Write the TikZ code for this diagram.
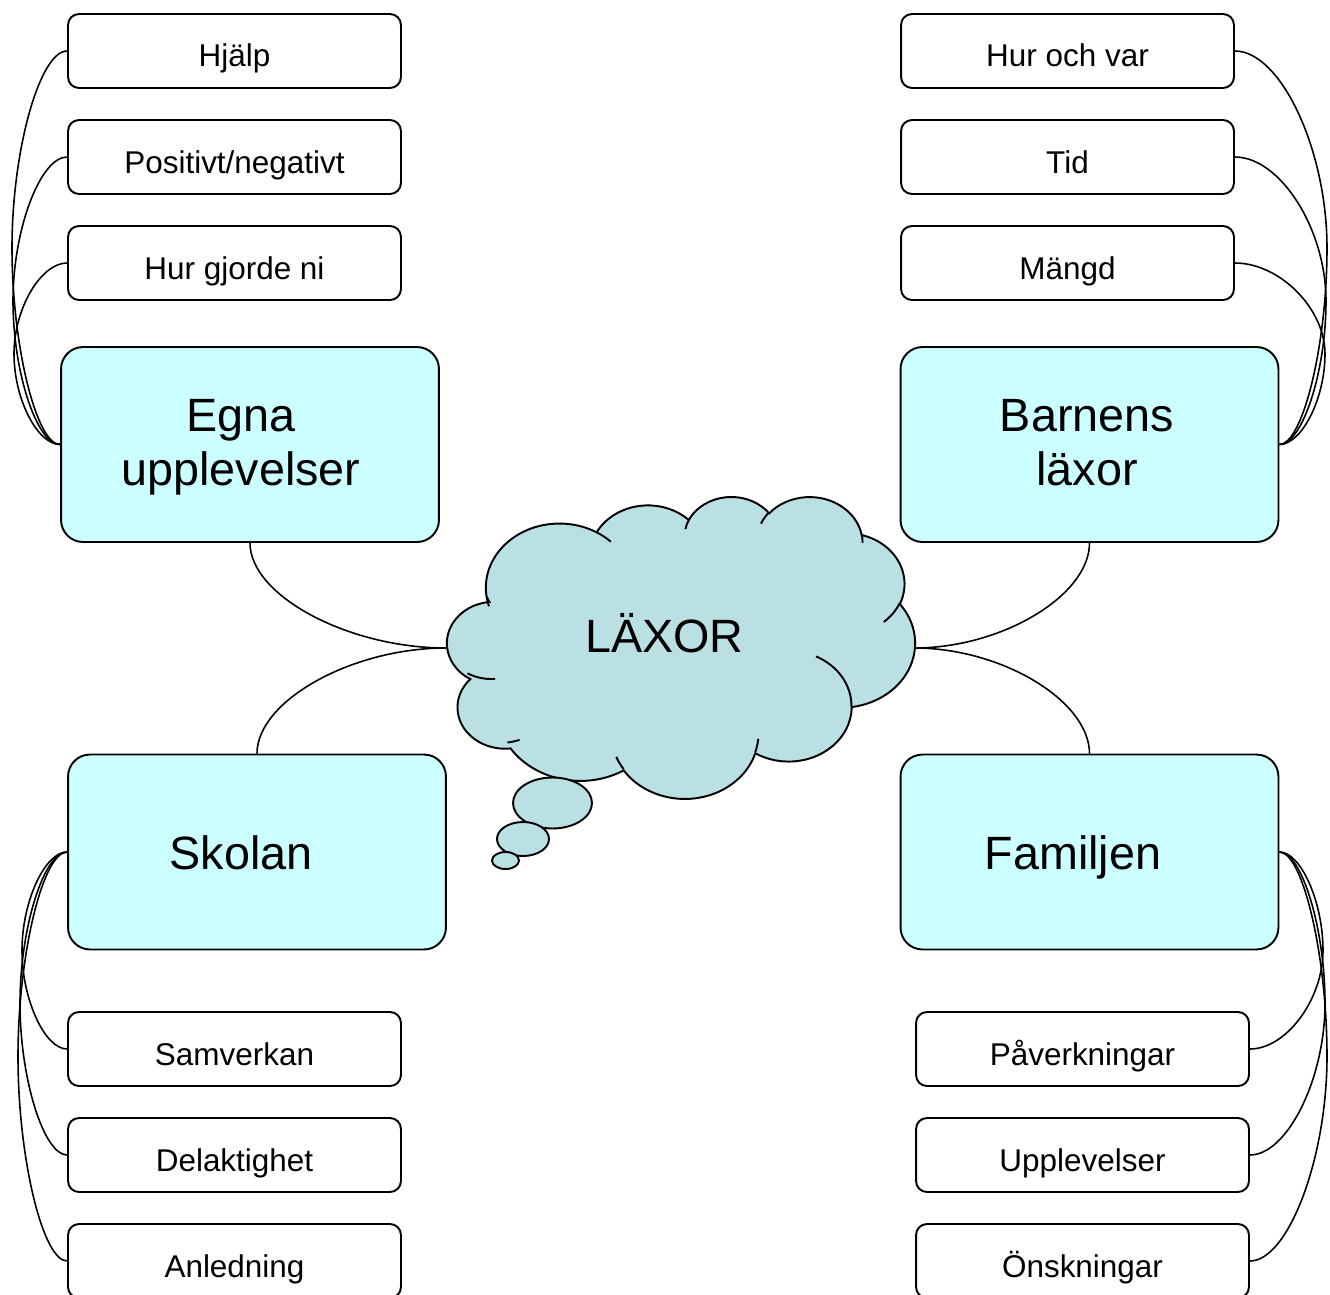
\documentclass[tikz,border=0pt]{standalone}
\usepackage{fontspec}
\setmainfont{Liberation Sans}
\definecolor{boxcyan}{RGB}{204,255,255}
\definecolor{cloudfill}{RGB}{187,224,227}
\begin{document}
\begin{tikzpicture}[x=0.02cm,y=-0.02cm,
  smallbox/.style={draw=black, line width=1.1pt, fill=white, rounded corners=0.22cm,
    minimum width=6.66cm, minimum height=1.48cm, inner sep=0pt,
    font=\fontsize{17.9}{21}\selectfont, text height=0.66cm, text depth=0.02cm},
  bigbox/.style={draw=black, line width=1.1pt, fill=boxcyan, rounded corners=0.44cm,
    minimum width=7.56cm, minimum height=3.9cm, inner sep=0pt},
  bigtext/.style={font=\fontsize{26.6}{30.6}\selectfont, align=center, anchor=base, inner sep=0pt},
  conn/.style={line width=0.9pt, draw=black},
  cloudshape/.style={line width=1.1pt, draw=black, fill=cloudfill},
  cloudinner/.style={line width=1.1pt, draw=black}
]
\useasboundingbox (0,0) rectangle (1330,1295);
\clip (0,0) rectangle (1330,1295);

% ---------- boxes ----------
\node[bigbox] (egna) at (250,444.5) {};
\node[bigbox] (barnens) at (1089.5,444.5) {};
\node[bigbox] (skolan) at (257,852) {};
\node[bigbox] (familjen) at (1089.5,852) {};

\node[bigtext] (egnaT) at (241,485.5) {Egna\\upplevelser};
\node[bigtext] (barnensT) at (1087,485.5) {Barnens\\läxor};
\node[bigtext] (skolanT) at (241,869) {Skolan};
\node[bigtext] (familjenT) at (1073,869) {Familjen};

\node[smallbox] (hjalp) at (234.5,51) {Hjälp};
\node[smallbox] (posneg) at (234.5,157) {Positivt/negativt};
\node[smallbox] (hurgj) at (234.5,263) {Hur gjorde ni};

\node[smallbox] (hurvar) at (1067.5,51) {Hur och var};
\node[smallbox] (tid) at (1067.5,157) {Tid};
\node[smallbox] (mangd) at (1067.5,263) {Mängd};

\node[smallbox] (samv) at (234.5,1049) {Samverkan};
\node[smallbox] (delak) at (234.5,1155) {Delaktighet};
\node[smallbox] (anled) at (234.5,1261) {Anledning};

\node[smallbox] (paverk) at (1082.5,1049) {Påverkningar};
\node[smallbox] (uppl) at (1082.5,1155) {Upplevelser};
\node[smallbox] (onsk) at (1082.5,1261) {Önskningar};

% ---------- cloud ----------
\begin{scope}[shift={(444,496)}, x=0.0218056cm, y=-0.0139815cm]
\path[cloudshape] (39.00,143.70)
 arc[start angle=-187.745, end angle=-59.637, x radius=67.53, y radius=91.90]
 arc[start angle=-152.038, end angle=-45.415, x radius=53.33, y radius=72.67]
 arc[start angle=-153.50, end angle=-37.31, x radius=43.65, y radius=59.45]
 arc[start angle=-139.71, end angle=-10.21, x radius=48.57, y radius=65.95]
 arc[start angle=-74.77, end angle=23.21, x radius=53.33, y radius=72.73]
 arc[start angle=-37.52, end angle=81.86, x radius=67.75, y radius=92.20]
 arc[start angle=0.46, end angle=121.98, x radius=57.85, y radius=78.67]
 arc[start angle=16.84, end angle=146.21, x radius=67.52, y radius=92.15]
 arc[start angle=58.98, end angle=146.02, x radius=77.20, y radius=105.43]
 arc[start angle=-276.69, end angle=-136.90, x radius=43.60, y radius=59.18]
 arc[start angle=-239.65, end angle=-95.89, x radius=43.45, y radius=59.45]
 -- cycle;
\draw[cloudinner] (46.93,261.77) arc[start angle=85.55, end angle=120.36, x radius=43.45, y radius=59.45];
\draw[cloudinner] (69.28,348.99) arc[start angle=68.24, end angle=83.31, x radius=43.60, y radius=59.18];
\draw[cloudinner] (164.78,390.90) arc[start angle=146.21, end angle=158.47, x radius=67.52, y radius=92.15];
\draw[cloudinner] (288.27,347.51) arc[start angle=4.74, end angle=16.84, x radius=67.52, y radius=92.15];
\draw[cloudinner] (341.29,229.54) arc[start angle=-64.03, end angle=0.46, x radius=57.85, y radius=78.67];
\draw[cloudinner] (417.98,153.54) arc[start angle=23.21, end angle=49.64, x radius=53.33, y radius=72.73];
\draw[cloudinner] (383.24,54.26) arc[start angle=-10.21, end angle=0.82, x radius=48.57, y radius=65.95];
\draw[cloudinner] (290.78,39.52) arc[start angle=-156.29, end angle=-139.71, x radius=48.57, y radius=65.95];
\draw[cloudinner] (221.41,47.20) arc[start angle=-167.73, end angle=-153.50, x radius=43.65, y radius=59.45];
\draw[cloudinner] (140.00,51.92) arc[start angle=-59.637, end angle=-45.69, x radius=67.53, y radius=91.90];
\draw[cloudinner] (41.27,157.89) arc[start angle=163.20, end angle=172.25, x radius=67.53, y radius=91.90];
\end{scope}
\draw[cloudshape] (552.5,803) ellipse [x radius=39.5, y radius=25.5];
\draw[cloudshape] (523,839) ellipse [x radius=26, y radius=17];
\draw[cloudshape] (505.5,860.5) ellipse [x radius=13.5, y radius=8.5];
\node[font=\fontsize{26.6}{30.6}\selectfont, anchor=base, inner sep=0pt] (laxor) at (664.5,652) {LÄXOR};
\coordinate (cloudL) at (446,648);
\coordinate (cloudR) at (914.5,648);

% ---------- connectors: cloud ----------
\draw[conn] (cloudL) .. controls (348,648) and (250,595.5) .. (egna.south);
\draw[conn] (cloudL) .. controls (351.5,648) and (257,701) .. (skolan.north);
\draw[conn] (cloudR) .. controls (1002,648) and (1089.5,595.5) .. (barnens.south);
\draw[conn] (cloudR) .. controls (1002,648) and (1089.5,701) .. (familjen.north);

% ---------- connectors: top left ----------
\draw[conn] (hjalp.west) .. controls (40,51) and (12,149.4) .. (12,247.8) .. controls (12,346.1) and (36.5,444.5) .. (egna.west);
\draw[conn] (posneg.west) .. controls (40.5,157) and (13,228.9) .. (13,300.8) .. controls (13,372.6) and (37,444.5) .. (egna.west);
\draw[conn] (hurgj.west) .. controls (41,263) and (14,308.4) .. (14,353.8) .. controls (14,399.1) and (37.5,444.5) .. (egna.west);

% ---------- connectors: top right ----------
\draw[conn] (hurvar.east) .. controls (1280.5,51) and (1327,149.4) .. (1327,247.8) .. controls (1327,346.1) and (1302.5,444.5) .. (barnens.east);
\draw[conn] (tid.east) .. controls (1280,157) and (1326,228.9) .. (1326,300.8) .. controls (1326,372.6) and (1302,444.5) .. (barnens.east);
\draw[conn] (mangd.east) .. controls (1279.5,263) and (1325,308.4) .. (1325,353.8) .. controls (1325,399.1) and (1301.5,444.5) .. (barnens.east);

% ---------- connectors: bottom left ----------
\draw[conn] (skolan.west) .. controls (45,852) and (22,901.25) .. (22,950.5) .. controls (22,999.75) and (45,1049) .. (samv.west);
\draw[conn] (skolan.west) .. controls (44,852) and (20,927.75) .. (20,1003.5) .. controls (20,1079.25) and (44,1155) .. (delak.west);
\draw[conn] (skolan.west) .. controls (43,852) and (18,954.25) .. (18,1056.5) .. controls (18,1158.75) and (43,1261) .. (anled.west);

% ---------- connectors: bottom right ----------
\draw[conn] (familjen.east) .. controls (1300.5,852) and (1323,901.25) .. (1323,950.5) .. controls (1323,999.75) and (1286,1049) .. (paverk.east);
\draw[conn] (familjen.east) .. controls (1301.5,852) and (1325,927.75) .. (1325,1003.5) .. controls (1325,1079.25) and (1287,1155) .. (uppl.east);
\draw[conn] (familjen.east) .. controls (1302.5,852) and (1327,954.25) .. (1327,1056.5) .. controls (1327,1158.75) and (1288,1261) .. (onsk.east);
\end{tikzpicture}
\end{document}
